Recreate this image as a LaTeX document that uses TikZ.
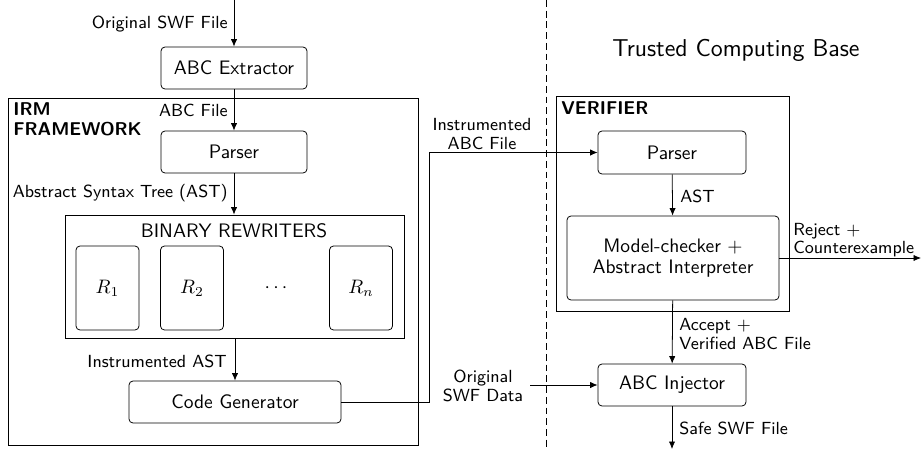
\documentclass[tikz,border=0pt]{standalone}
\usepackage{fontspec}
\usetikzlibrary{arrows.meta}
\newcommand\pxu{0.5128pt}
\tikzset{
  box/.style={draw, rounded corners=4*\pxu, inner sep=0pt, align=center,
    font=\sffamily\fontsize{10}{10.8}\selectfont},
  frame/.style={draw, inner sep=0pt},
  lbl/.style={inner sep=1pt, font=\sffamily\fontsize{9}{9.4}\selectfont},
  ttl/.style={inner sep=0pt, align=left, font=\sffamily\bfseries\fontsize{9.5}{10.2}\selectfont},
  arr/.style={-{Latex[length=3.8pt,width=3.2pt]}},
}
\begin{document}
\begin{tikzpicture}[x=0.5128pt, y=-0.5128pt]
  \useasboundingbox (0,0) rectangle (921,449);

  % trust boundary
  \coordinate (divtop) at (546,0);
  \coordinate (divbot) at (546,449);
  \draw[dash pattern=on 3.5pt off 2pt] (divtop) -- (divbot);
  \node[inner sep=0pt, font=\sffamily\fontsize{12.5}{13}\selectfont] (tcb) at (736,50) {Trusted Computing Base};

  % IRM framework
  \node[frame, minimum width=410*\pxu, minimum height=347*\pxu] (irm) at (213,271.5) {};
  \node[ttl, anchor=north west] (irmt) at (13,102) {IRM\\FRAMEWORK};

  \node[box, minimum width=146*\pxu, minimum height=42*\pxu] (ext) at (234,68) {ABC Extractor};
  \node[box, minimum width=146*\pxu, minimum height=42*\pxu] (parse) at (234,152) {Parser};

  \node[frame, minimum width=339*\pxu, minimum height=123*\pxu] (rw) at (234.5,276.5) {};
  \node[inner sep=0pt, font=\sffamily\fontsize{10}{11}\selectfont] (rwt) at (234,231) {BINARY REWRITERS};
  \node[box, minimum width=63*\pxu, minimum height=84*\pxu] (r1) at (107.5,288) {$R_1$};
  \node[box, minimum width=63*\pxu, minimum height=84*\pxu] (r2) at (192,288) {$R_2$};
  \node[inner sep=0pt] (dots) at (276,288) {$\cdots$};
  \node[box, minimum width=63*\pxu, minimum height=84*\pxu] (rn) at (361,288) {$R_n$};

  \node[box, minimum width=212*\pxu, minimum height=42*\pxu] (cg) at (235,402) {Code Generator};

  % verifier
  \node[frame, minimum width=233*\pxu, minimum height=215*\pxu] (ver) at (672.5,203.5) {};
  \node[ttl, anchor=north west] (vert) at (561,101) {VERIFIER};
  \node[box, minimum width=148*\pxu, minimum height=43*\pxu] (parse2) at (672,152.5) {Parser};
  \node[box, minimum width=212*\pxu, minimum height=84*\pxu] (mc) at (673,258) {Model-checker $+$\\Abstract Interpreter};
  \node[box, minimum width=148*\pxu, minimum height=42*\pxu] (inj) at (672,385) {ABC Injector};

  % connectors
  \coordinate (in) at (234,0);
  \draw[arr] (in) -- (ext);
  \node[lbl, anchor=east] (l1) at (230,24) {Original SWF File};

  \draw[arr] (ext) -- (parse);
  \node[lbl, anchor=east] (l2) at (230,110) {ABC File};

  \draw[arr] (parse.south) -- (parse.south |- rw.north);
  \node[lbl, anchor=east] (l3) at (230,193) {Abstract Syntax Tree (AST)};

  \draw[arr] (rw.south -| cg.north) -- (cg.north);
  \node[lbl, anchor=east] (l4) at (229,361) {Instrumented AST};

  \coordinate (b1) at (429,402);
  \coordinate (b2) at (429,152.5);
  \draw[arr] (cg.east) -- (b1) -- (b2) -- (parse2.west);
  \node[lbl, align=center] (l5) at (482,134) {Instrumented\\ABC File};

  \draw[arr] (parse2) -- (mc);
  \node[lbl, anchor=west] (l6) at (678,196) {AST};

  \coordinate (rej) at (921,258);
  \draw[arr] (mc.east) -- (rej);
  \node[lbl, anchor=west, align=left] (l7) at (791,240) {Reject $+$\\Counterexample};

  \draw[arr] (mc) -- (inj);
  \node[lbl, anchor=west, align=left] (l8) at (677,334) {Accept $+$\\Verified ABC File};

  \coordinate (osd) at (530,385);
  \draw[arr] (osd) -- (inj.west);
  \node[lbl, align=center] (l9) at (483,386) {Original\\SWF Data};

  \coordinate (out) at (672,449);
  \draw[arr] (inj) -- (out);
  \node[lbl, anchor=west] (l10) at (677,428) {Safe SWF File};
\end{tikzpicture}
\end{document}
